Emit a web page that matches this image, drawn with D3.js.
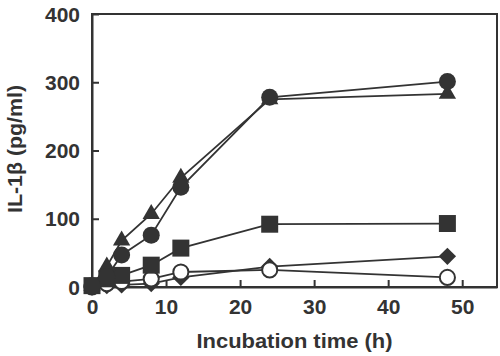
<!DOCTYPE html>
<html>
<head>
<meta charset="utf-8">
<script src="https://cdn.jsdelivr.net/npm/d3@7"></script>
<style>
  body { margin: 0; background: #fff; }
  text { font-family: "Liberation Sans", Arial, Helvetica, sans-serif; font-weight: bold; fill: #333; }
</style>
</head>
<body>
<div id="chart"></div>
<script>
// incubation times (h)
var times = [0, 2, 4, 8, 12, 24, 48];
// IL-1b (pg/ml) per series
var filledCircle = [2, 15, 47, 76, 146, 278, 301];
var filledTriangle = [2, 30, 68, 107, 160, 275, 283];
var filledSquare = [2, 12, 17, 32, 57, 92, 93];
var filledDiamond = [0, 2, 3, 5, 14, 30, 45];
var openCircle = [0, 5, 8, 12, 22, 25, 14];
var xTicks = [0, 10, 20, 30, 40, 50];
var yTicks = [0, 100, 200, 300, 400];

var width = 500, height = 356;
var margin = { top: 14, right: 3, bottom: 69, left: 92 };
var ink = "#333";

var svg = d3.select("#chart").append("svg")
  .attr("width", width)
  .attr("height", height);

var x = d3.scaleLinear().domain([0, 54.7]).range([margin.left, width - margin.right]);
var y = d3.scaleLinear().domain([0, 400]).range([height - margin.bottom, margin.top]);

// series: symbol type, size, fill, rotation
var series = [
  { name: "diamond", values: filledDiamond, type: d3.symbolSquare, size: 150, fill: ink, rotate: 45 },
  { name: "open", values: openCircle, type: d3.symbolCircle, size: 180, fill: "#fff", rotate: 0 },
  { name: "square", values: filledSquare, type: d3.symbolSquare, size: 289, fill: ink, rotate: 0 },
  { name: "triangle", values: filledTriangle, type: d3.symbolTriangle, size: 130, fill: ink, rotate: 0 },
  { name: "circle", values: filledCircle, type: d3.symbolCircle, size: 227, fill: ink, rotate: 0 }
];

// frame
svg.append("rect")
  .attr("x", x(0)).attr("y", y(400))
  .attr("width", x(54.7) - x(0)).attr("height", y(0) - y(400))
  .attr("fill", "none").attr("stroke", ink).attr("stroke-width", 2);

// axes with inward ticks
var xAxis = svg.append("g")
  .attr("transform", "translate(0," + y(0) + ")")
  .call(d3.axisBottom(x).tickValues(xTicks).tickSizeInner(-7).tickSizeOuter(0).tickPadding(13));
var yAxis = svg.append("g")
  .attr("transform", "translate(" + x(0) + ",0)")
  .call(d3.axisLeft(y).tickValues(yTicks).tickSizeInner(-7).tickSizeOuter(0).tickPadding(12));

[xAxis, yAxis].forEach(function (g) {
  g.select(".domain").attr("stroke", ink).attr("stroke-width", 2);
  g.selectAll(".tick line").attr("stroke", ink).attr("stroke-width", 2);
  g.selectAll(".tick text")
    .attr("font-size", 20)
    .attr("fill", ink)
    .each(function () {
      var len = this.getComputedTextLength();
      d3.select(this).attr("textLength", len * 1.05).attr("lengthAdjust", "spacingAndGlyphs");
    });
});
yAxis.selectAll(".tick text").attr("dy", "0.36em");

// lines
var line = d3.line()
  .x(function (d, i) { return x(times[i]); })
  .y(function (d) { return y(d); });

series.forEach(function (s) {
  svg.append("path")
    .datum(s.values)
    .attr("d", line)
    .attr("fill", "none")
    .attr("stroke", ink)
    .attr("stroke-width", 1.8);
});

// markers
series.forEach(function (s) {
  svg.append("g").attr("class", s.name)
    .selectAll("path")
    .data(s.values)
    .enter()
    .append("path")
    .attr("d", d3.symbol().type(s.type).size(s.size))
    .attr("transform", function (d, i) {
      return "translate(" + x(times[i]) + "," + y(d) + ") rotate(" + s.rotate + ")";
    })
    .attr("fill", s.fill)
    .attr("stroke", ink)
    .attr("stroke-width", s.fill === "#fff" ? 2 : 0);
});

// axis titles
svg.append("text")
  .attr("x", (x(0) + x(54.7)) / 2)
  .attr("y", 348)
  .attr("text-anchor", "middle")
  .attr("font-size", 20)
  .attr("textLength", 196)
  .attr("lengthAdjust", "spacingAndGlyphs")
  .text("Incubation time (h)");

svg.append("text")
  .attr("transform", "translate(22,149) rotate(-90)")
  .attr("text-anchor", "middle")
  .attr("font-size", 20)
  .attr("textLength", 128)
  .attr("lengthAdjust", "spacingAndGlyphs")
  .text("IL-1β (pg/ml)");
</script>
</body>
</html>
